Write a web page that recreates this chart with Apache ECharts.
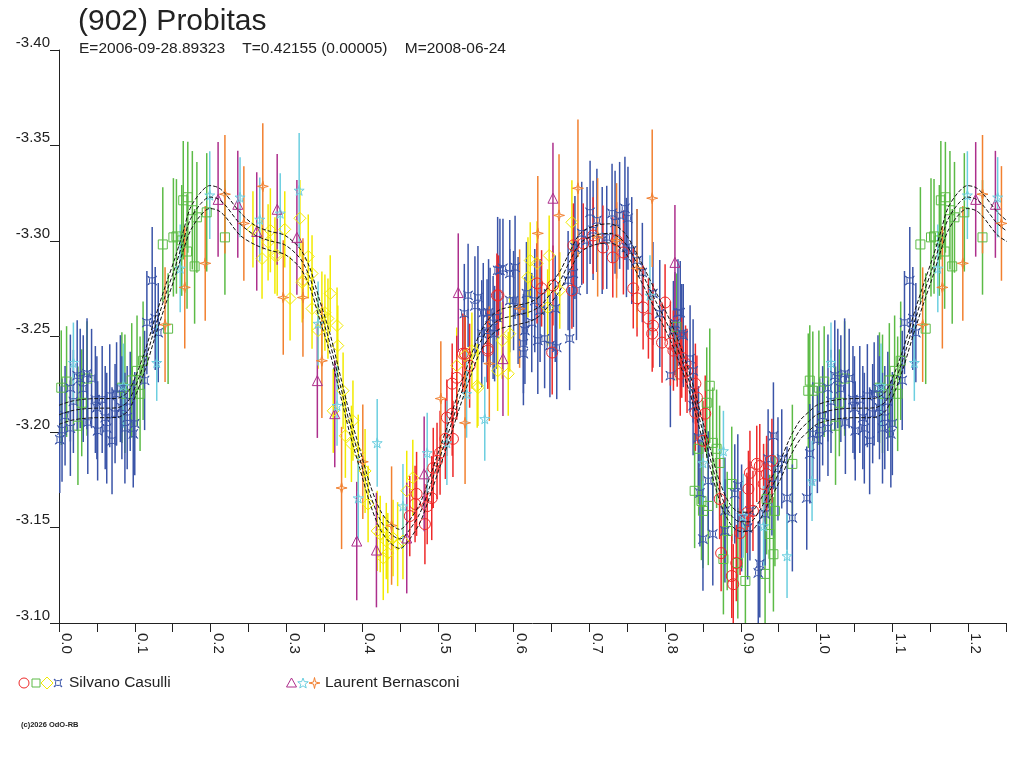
<!DOCTYPE html>
<html><head><meta charset="utf-8">
<script src="https://cdn.jsdelivr.net/npm/echarts@6/dist/echarts.min.js"></script>
<style>html,body{margin:0;padding:0;background:#fff}#c{width:1024px;height:768px}</style>
</head><body><div id="c"></div>
<script>
// ---- fitted light curve (phase, magnitude) ----
const fitPhase = [0.000,0.015,0.030,0.050,0.067,0.080,0.091,0.100,0.114,0.127,0.140,0.153,0.164,0.173,0.186,0.199,0.210,0.219,0.239,0.259,0.279,0.298,0.318,0.331,0.344,0.358,0.371,0.384,0.397,0.411,0.424,0.437,0.450,0.463,0.477,0.490,0.503,0.516,0.529,0.543,0.556,0.569,0.582,0.602,0.622,0.635,0.648,0.661,0.675,0.688,0.707,0.727,0.747,0.767,0.787,0.807,0.820,0.833,0.846,0.859,0.872,0.886,0.899,0.912,0.925,0.938,0.952,0.965,0.978,0.991,1.000];
const fitMag = [-3.209,-3.211,-3.212,-3.2125,-3.2125,-3.213,-3.216,-3.223,-3.238,-3.255,-3.271,-3.286,-3.300,-3.311,-3.319,-3.323,-3.322,-3.319,-3.309,-3.303,-3.300,-3.298,-3.291,-3.281,-3.264,-3.246,-3.225,-3.204,-3.186,-3.167,-3.154,-3.147,-3.144,-3.149,-3.158,-3.172,-3.187,-3.202,-3.218,-3.234,-3.247,-3.255,-3.259,-3.261,-3.263,-3.266,-3.272,-3.279,-3.290,-3.299,-3.303,-3.304,-3.299,-3.285,-3.269,-3.253,-3.240,-3.225,-3.206,-3.187,-3.169,-3.157,-3.153,-3.153,-3.159,-3.169,-3.180,-3.192,-3.201,-3.206,-3.209];
const fitUpper = [-3.214,-3.216,-3.217,-3.2175,-3.2175,-3.218,-3.221,-3.228,-3.243,-3.260,-3.276,-3.291,-3.305,-3.317,-3.325,-3.329,-3.328,-3.325,-3.315,-3.308,-3.305,-3.303,-3.296,-3.286,-3.269,-3.251,-3.230,-3.209,-3.191,-3.172,-3.159,-3.152,-3.149,-3.154,-3.163,-3.177,-3.192,-3.207,-3.223,-3.239,-3.252,-3.260,-3.264,-3.266,-3.268,-3.271,-3.277,-3.284,-3.295,-3.304,-3.308,-3.309,-3.304,-3.290,-3.274,-3.258,-3.245,-3.230,-3.211,-3.192,-3.174,-3.162,-3.158,-3.158,-3.164,-3.174,-3.185,-3.197,-3.206,-3.211,-3.214];
const fitLower = [-3.204,-3.206,-3.207,-3.2075,-3.2075,-3.208,-3.211,-3.218,-3.233,-3.250,-3.266,-3.281,-3.295,-3.305,-3.313,-3.317,-3.316,-3.313,-3.303,-3.298,-3.295,-3.293,-3.286,-3.276,-3.259,-3.241,-3.220,-3.199,-3.181,-3.162,-3.149,-3.142,-3.139,-3.144,-3.153,-3.167,-3.182,-3.197,-3.213,-3.229,-3.242,-3.250,-3.254,-3.256,-3.258,-3.261,-3.267,-3.274,-3.285,-3.294,-3.298,-3.299,-3.294,-3.280,-3.264,-3.248,-3.235,-3.220,-3.201,-3.182,-3.164,-3.152,-3.148,-3.148,-3.154,-3.164,-3.175,-3.187,-3.196,-3.201,-3.204];

// ---- observations [phase, mag, error] ----
// Silvano Casulli
const redData = [[0.463,-3.156,0.021],[0.470,-3.1623,0.020],[0.472,-3.1676,0.022],[0.483,-3.1518,0.021],[0.486,-3.1612,0.020],[0.492,-3.1654,0.022],[0.494,-3.1812,0.021],[0.499,-3.1849,0.020],[0.503,-3.1891,0.022],[0.510,-3.1964,0.021],[0.512,-3.2075,0.020],[0.519,-3.2096,0.022],[0.519,-3.2253,0.021],[0.520,-3.1964,0.020],[0.525,-3.2284,0.022],[0.533,-3.241,0.021],[0.536,-3.241,0.020],[0.542,-3.2347,0.022],[0.566,-3.2437,0.021],[0.566,-3.2426,0.020],[0.578,-3.2715,0.022],[0.580,-3.2715,0.021],
[0.631,-3.2778,0.021],[0.637,-3.2752,0.020],[0.651,-3.2416,0.022],[0.652,-3.2767,0.021],[0.677,-3.2741,0.020],[0.679,-3.2977,0.022],[0.692,-3.2987,0.021],[0.705,-3.3029,0.020],[0.718,-3.2966,0.022],[0.731,-3.2914,0.021],[0.736,-3.3003,0.020],[0.745,-3.294,0.022],[0.758,-3.2752,0.021],[0.763,-3.27,0.020],[0.771,-3.2652,0.022],[0.778,-3.2594,0.021],[0.783,-3.2515,0.020],[0.784,-3.2557,0.022],[0.796,-3.2468,0.021],[0.800,-3.2678,0.020],[0.807,-3.2463,0.022],[0.811,-3.2426,0.021],[0.816,-3.2437,0.020],[0.820,-3.2305,0.022],[0.822,-3.2389,0.021],[0.827,-3.2358,0.020],[0.829,-3.232,0.022],[0.840,-3.2253,0.021],[0.840,-3.2101,0.020],[0.842,-3.218,0.022],[0.850,-3.1954,0.021],[0.853,-3.2096,0.020],
[0.872,-3.1649,0.021],[0.874,-3.1366,0.020],[0.888,-3.1246,0.022],[0.890,-3.1203,0.021],[0.894,-3.1314,0.020],[0.899,-3.1471,0.022],[0.908,-3.1576,0.021],[0.910,-3.1702,0.020],[0.912,-3.1786,0.022],[0.916,-3.1587,0.021],[0.921,-3.1833,0.020],[0.925,-3.1822,0.022],[0.930,-3.1728,0.021],[0.934,-3.178,0.020],[0.941,-3.1849,0.022]];
const greenData = [[0.003,-3.2232,0.030],[0.010,-3.2264,0.029],[0.025,-3.2033,0.031],[0.030,-3.2153,0.028],[0.037,-3.228,0.030],[0.083,-3.2232,0.029],[0.087,-3.220,0.031],[0.096,-3.227,0.030],[0.103,-3.232,0.029],[0.107,-3.220,0.030],[0.111,-3.2373,0.031],[0.137,-3.2982,0.030],[0.144,-3.2541,0.029],[0.151,-3.3019,0.031],[0.155,-3.3024,0.030],[0.162,-3.3003,0.029],[0.164,-3.3213,0.031],[0.169,-3.2945,0.030],[0.170,-3.3229,0.029],[0.176,-3.3161,0.031],[0.179,-3.2867,0.030],[0.182,-3.3124,0.029],[0.195,-3.315,0.031],[0.219,-3.3019,0.030],
[0.815,-3.255,0.028],[0.839,-3.1692,0.030],[0.844,-3.1912,0.029],[0.848,-3.1639,0.031],[0.850,-3.1587,0.030],[0.855,-3.2153,0.029],[0.857,-3.1613,0.031],[0.859,-3.2242,0.030],[0.863,-3.1943,0.029],[0.868,-3.1912,0.031],[0.872,-3.1838,0.030],[0.877,-3.1335,0.029],[0.882,-3.1482,0.031],[0.888,-3.1728,0.030],[0.896,-3.1314,0.029],[0.906,-3.122,0.031],[0.932,-3.1257,0.030],[0.934,-3.1649,0.029],[0.938,-3.1466,0.031],[0.943,-3.136,0.030],[0.945,-3.1587,0.029],[0.968,-3.1833,0.031],[0.989,-3.2216,0.030],[0.991,-3.2269,0.029],[0.995,-3.2216,0.031]];
const yellowData = [[0.256,-3.3061,0.020],[0.268,-3.2908,0.021],[0.276,-3.2993,0.020],[0.279,-3.3056,0.022],[0.285,-3.2924,0.020],[0.288,-3.2924,0.021],[0.298,-3.3061,0.020],[0.305,-3.2699,0.022],[0.318,-3.3119,0.020],[0.321,-3.2783,0.021],[0.322,-3.2793,0.020],[0.329,-3.2919,0.022],[0.334,-3.283,0.020],[0.334,-3.2646,0.021],[0.342,-3.2531,0.020],[0.347,-3.262,0.022],[0.351,-3.2625,0.020],[0.355,-3.2594,0.021],[0.358,-3.2725,0.020],[0.362,-3.2111,0.022],[0.367,-3.2557,0.020],[0.368,-3.2452,0.021],[0.375,-3.2216,0.020],[0.378,-3.198,0.022],[0.386,-3.1938,0.020],[0.388,-3.2059,0.021],[0.395,-3.1891,0.020],[0.404,-3.1796,0.022],[0.408,-3.1623,0.020],[0.420,-3.1482,0.021],[0.424,-3.1466,0.020],[0.428,-3.134,0.022],[0.432,-3.1429,0.020],[0.434,-3.1366,0.021],[0.441,-3.1445,0.020],[0.447,-3.1413,0.022],[0.454,-3.1429,0.020],[0.459,-3.1692,0.021],[0.467,-3.176,0.020],
[0.525,-3.2347,0.020],[0.536,-3.24,0.021],[0.545,-3.2426,0.020],[0.552,-3.2242,0.022],[0.553,-3.2232,0.020],[0.579,-3.232,0.021],[0.585,-3.2479,0.020],[0.593,-3.2305,0.022],[0.595,-3.2515,0.020],[0.619,-3.281,0.021],[0.622,-3.2898,0.020],[0.631,-3.2883,0.022],[0.645,-3.2652,0.020],[0.647,-3.2924,0.021],[0.661,-3.2741,0.020],[0.677,-3.3098,0.022]];
const blueData = [[0.001,-3.196,0.028],[0.004,-3.201,0.027],[0.008,-3.2085,0.026],[0.015,-3.223,0.028],[0.015,-3.202,0.025],[0.019,-3.216,0.027],[0.024,-3.2295,0.029],[0.028,-3.228,0.026],[0.032,-3.2227,0.028],[0.037,-3.2305,0.029],[0.038,-3.205,0.027],[0.043,-3.228,0.026],[0.048,-3.217,0.028],[0.050,-3.2127,0.027],[0.051,-3.2006,0.026],[0.057,-3.217,0.028],[0.061,-3.2075,0.027],[0.063,-3.202,0.029],[0.067,-3.219,0.027],[0.070,-3.1954,0.028],[0.074,-3.2096,0.026],[0.076,-3.220,0.027],[0.081,-3.2227,0.028],[0.083,-3.2127,0.027],[0.087,-3.202,0.029],[0.090,-3.2075,0.027],[0.094,-3.216,0.026],[0.098,-3.199,0.028],[0.100,-3.2044,0.027],[0.113,-3.227,0.026],[0.116,-3.2573,0.027],[0.123,-3.2793,0.028],[0.127,-3.2594,0.027],[0.131,-3.252,0.026],
[0.535,-3.262,0.026],[0.540,-3.2715,0.027],[0.549,-3.266,0.026],[0.553,-3.2704,0.027],[0.558,-3.2515,0.028],[0.560,-3.2625,0.026],[0.565,-3.253,0.027],[0.567,-3.2625,0.028],[0.569,-3.260,0.026],[0.573,-3.2547,0.027],[0.575,-3.2515,0.025],[0.578,-3.260,0.027],[0.579,-3.2846,0.028],[0.582,-3.2846,0.027],[0.586,-3.2857,0.026],[0.595,-3.283,0.028],[0.595,-3.2688,0.027],[0.600,-3.2688,0.026],[0.602,-3.2862,0.027],[0.606,-3.2636,0.028],[0.613,-3.241,0.027],[0.613,-3.2463,0.026],[0.615,-3.2531,0.028],[0.617,-3.2725,0.027],[0.624,-3.2573,0.026],[0.628,-3.2688,0.027],[0.632,-3.2479,0.028],[0.635,-3.2636,0.027],[0.641,-3.2489,0.026],[0.648,-3.2452,0.027],[0.655,-3.2646,0.028],[0.657,-3.2442,0.027],[0.672,-3.2793,0.026],[0.674,-3.2489,0.027],[0.679,-3.283,0.028],[0.681,-3.2966,0.027],[0.683,-3.2741,0.026],[0.690,-3.304,0.027],[0.697,-3.3003,0.028],[0.701,-3.315,0.027],[0.705,-3.3056,0.026],[0.710,-3.3108,0.027],[0.717,-3.3003,0.028],[0.723,-3.3019,0.027],[0.730,-3.3145,0.026],[0.734,-3.3098,0.027],[0.740,-3.3134,0.028],[0.747,-3.3171,0.027],[0.749,-3.2966,0.026],[0.751,-3.3119,0.027],[0.756,-3.295,0.028],[0.763,-3.2898,0.027],[0.770,-3.2835,0.026],[0.784,-3.2725,0.027],[0.793,-3.262,0.028],[0.807,-3.2295,0.027],[0.811,-3.2531,0.026],[0.813,-3.2568,0.027],[0.817,-3.2625,0.028],[0.820,-3.2625,0.027],[0.822,-3.2515,0.026],[0.824,-3.2505,0.027],[0.833,-3.2384,0.028],[0.837,-3.232,0.027],[0.837,-3.2138,0.026],[0.844,-3.197,0.027],[0.846,-3.1681,0.028],[0.850,-3.1439,0.027],[0.857,-3.1744,0.026],[0.863,-3.1466,0.027],[0.879,-3.1587,0.028],[0.879,-3.1482,0.027],[0.892,-3.1676,0.026],[0.896,-3.1718,0.027],[0.901,-3.155,0.028],[0.909,-3.1498,0.027],[0.912,-3.1587,0.026],[0.923,-3.1262,0.027],[0.925,-3.1309,0.028],[0.932,-3.1571,0.027],[0.936,-3.1859,0.026],[0.941,-3.1728,0.027],[0.943,-3.198,0.028],[0.949,-3.1807,0.027],[0.954,-3.1859,0.026],[0.961,-3.1654,0.027],[0.968,-3.155,0.028],[0.987,-3.1654,0.027],[0.991,-3.1886,0.026],[0.995,-3.199,0.027]];
// Laurent Bernasconi
const purpleData = [[0.210,-3.3218,0.030],[0.236,-3.3192,0.028],[0.261,-3.305,0.031],[0.288,-3.3166,0.029],[0.314,-3.3019,0.030],[0.341,-3.2269,0.030],[0.364,-3.2096,0.028],[0.393,-3.1429,0.031],[0.419,-3.1382,0.030],[0.459,-3.1445,0.029],[0.482,-3.1781,0.030],[0.527,-3.273,0.031],[0.586,-3.2384,0.030],[0.652,-3.3224,0.029],[0.813,-3.2888,0.030]];
const cyanData = [[0.019,-3.2363,0.021],[0.085,-3.2243,0.022],[0.129,-3.2363,0.020],[0.160,-3.2857,0.023],[0.199,-3.324,0.023],[0.239,-3.3229,0.021],[0.265,-3.3113,0.022],[0.292,-3.3145,0.021],[0.317,-3.3265,0.030],[0.342,-3.2568,0.022],[0.367,-3.2138,0.021],[0.395,-3.1654,0.022],[0.420,-3.1943,0.023],[0.454,-3.1612,0.022],[0.486,-3.1891,0.021],[0.512,-3.1943,0.022],[0.538,-3.22,0.023],[0.562,-3.2069,0.022],[0.780,-3.2715,0.021],[0.850,-3.1838,0.022],[0.877,-3.1901,0.021],[0.903,-3.1561,0.022],[0.930,-3.1508,0.021],[0.961,-3.1351,0.022],[0.994,-3.1744,0.021]];
const orangeData = [[0.140,-3.2562,0.030],[0.166,-3.2757,0.032],[0.193,-3.2883,0.030],[0.219,-3.3245,0.031],[0.244,-3.3092,0.030],[0.269,-3.3286,0.033],[0.296,-3.2704,0.030],[0.322,-3.2704,0.031],[0.347,-3.2373,0.030],[0.373,-3.1707,0.032],[0.401,-3.1844,0.030],[0.439,-3.151,0.031],[0.504,-3.2175,0.030],[0.536,-3.2048,0.032],[0.568,-3.2358,0.030],[0.608,-3.2646,0.031],[0.632,-3.304,0.030],[0.660,-3.3134,0.032],[0.685,-3.3276,0.036],[0.711,-3.3019,0.031],[0.736,-3.3003,0.030],[0.763,-3.2857,0.031],[0.783,-3.3224,0.036]];

const xMax = 1.25;
const yTickMin = -3.40, yTickMax = -3.10, yStep = 0.05, xStep = 0.05;
const titleText = '(902) Probitas';
const subText = 'E=2006-09-28.89323    T=0.42155 (0.00005)    M=2008-06-24';
const observer1 = 'Silvano Casulli';
const observer2 = 'Laurent Bernasconi';
const copyright = '(c)2026 OdO-RB';

const C = {red:'#ee2a2a', green:'#5cbb46', yellow:'#f2ea00', blue:'#3a54a8', purple:'#ad2f8c', cyan:'#6ccfe0', orange:'#f28030'};
const FONT = '"Liberation Sans", Arial, sans-serif';

// repeat phases 0..0.25 after phase 1
function wrap(arr){
  const out = arr.slice();
  arr.forEach(d => { if (d[0] + 1 <= xMax) out.push([d[0] + 1, d[1], d[2]]); });
  return out;
}
function curve(mags){
  const pts = fitPhase.map((p,i)=>[p, mags[i]]);
  fitPhase.forEach((p,i)=>{ if (p > 0 && p + 1 <= xMax + 0.02) pts.push([p + 1, mags[i]]); });
  return pts;
}

const SYM = {
  blue: 'path://M0,0 L30,20 L70,20 L100,0 L80,30 L80,70 L100,100 L70,80 L30,80 L0,100 L20,70 L20,30 Z',
  star: 'path://M50,0 L61,35 L98,35 L68,57 L79,91 L50,70 L21,91 L32,57 L2,35 L39,35 Z',
  star4: 'path://M50,0 L60,40 L100,50 L60,60 L50,100 L40,60 L0,50 L40,40 Z'
};

const groups = [
  {data: greenData, color: C.green, symbol: 'rect', size: 9},
  {data: blueData, color: C.blue, symbol: SYM.blue, size: 9},
  {data: yellowData, color: C.yellow, symbol: 'diamond', size: 12},
  {data: redData, color: C.red, symbol: 'circle', size: 11},
  {data: purpleData, color: C.purple, symbol: 'triangle', size: 10},
  {data: cyanData, color: C.cyan, symbol: SYM.star, size: 10},
  {data: orangeData, color: C.orange, symbol: SYM.star4, size: 11}
];

const series = [];
groups.forEach(g => {
  series.push({
    type: 'custom', data: wrap(g.data), clip: true, silent: true, z: 2,
    encode: {x: 0, y: 1},
    renderItem: (params, api) => {
      const x = api.value(0), y = api.value(1), e = api.value(2);
      const p1 = api.coord([x, y - e]), p2 = api.coord([x, y + e]);
      return {type: 'line', shape: {x1: p1[0], y1: p1[1], x2: p2[0], y2: p2[1]},
              style: {stroke: g.color, lineWidth: 1.5}};
    }
  });
});
groups.forEach(g => {
  series.push({
    type: 'scatter', data: wrap(g.data), clip: true, silent: true, z: 3,
    symbol: g.symbol, symbolSize: g.size,
    itemStyle: {color: 'rgba(0,0,0,0)', borderColor: g.color, borderWidth: 1, opacity: 1}
  });
});
[fitUpper, fitMag, fitLower].forEach(m => {
  series.push({
    type: 'line', data: curve(m), showSymbol: false, smooth: 0.3, clip: true, silent: true, z: 5,
    lineStyle: {color: '#111', width: 1, type: [4, 2]}
  });
});

// legend drawn as graphic shapes
function starPts(cx, cy, R, r, n){
  const pts = [];
  for (let i = 0; i < 2*n; i++){
    const a = -Math.PI/2 + i*Math.PI/n, rr = i % 2 ? r : R;
    pts.push([cx + rr*Math.cos(a), cy + rr*Math.sin(a)]);
  }
  return pts;
}
const ly = 683;
const hollow = c => ({fill: 'none', stroke: c, lineWidth: 1});
const graphic = [
  {type:'text', left: 78, top: 7, style:{text: titleText, font: '30px ' + FONT, fill:'#222'}},
  {type:'text', left: 79, top: 41, style:{text: subText, font: '15.5px ' + FONT, fill:'#222'}},
  {type:'circle', shape:{cx:24, cy:ly, r:5}, style: hollow(C.red)},
  {type:'rect', shape:{x:32, y:ly-4, width:8, height:8}, style: hollow(C.green)},
  {type:'polygon', shape:{points:[[47,ly-6],[53,ly],[47,ly+6],[41,ly]]}, style: hollow(C.yellow)},
  {type:'polygon', shape:{points:[[54,ly-4],[56.4,ly-2.4],[59.6,ly-2.4],[62,ly-4],[60.4,ly-1.6],[60.4,ly+1.6],[62,ly+4],[59.6,ly+2.4],[56.4,ly+2.4],[54,ly+4],[55.6,ly+1.6],[55.6,ly-1.6]]}, style: hollow(C.blue)},
  {type:'text', left: 69, top: ly-8, style:{text: observer1, font: '15.5px ' + FONT, fill:'#222'}},
  {type:'polygon', shape:{points:[[291.5,ly-5],[296.5,ly+4],[286.5,ly+4]]}, style: hollow(C.purple)},
  {type:'polygon', shape:{points: starPts(303, ly+0.5, 5.5, 2.3, 5)}, style: hollow(C.cyan)},
  {type:'polygon', shape:{points: starPts(314.5, ly, 5.5, 1.4, 4)}, style: hollow(C.orange)},
  {type:'text', left: 325, top: ly-8, style:{text: observer2, font: '15.5px ' + FONT, fill:'#222'}},
  {type:'text', left: 21, top: 721, style:{text: copyright, font: 'bold 7.5px ' + FONT, fill:'#222'}}
];

const chart = echarts.init(document.getElementById('c'), null, {renderer: 'canvas'});
chart.setOption({
  animation: false,
  backgroundColor: '#fff',
  grid: {left: 59, right: 18, top: 50, bottom: 145, containLabel: false, outerBoundsMode: 'none'},
  xAxis: {
    type: 'value', min: 0, max: xMax, interval: xStep,
    axisLine: {show: true, onZero: false, lineStyle: {color: '#222', width: 1}},
    axisTick: {show: true, length: 9, inside: false, lineStyle: {color: '#222'}},
    splitLine: {show: false},
    axisLabel: {
      rotate: -90, margin: 10, align: 'left', verticalAlign: 'bottom',
      color: '#222', fontSize: 15, fontFamily: FONT, showMaxLabel: true, showMinLabel: true,
      formatter: v => { const k = Math.round(v / xStep); return k % 2 === 0 ? (k * xStep).toFixed(1) : ''; }
    }
  },
  yAxis: {
    type: 'value', inverse: true, min: yTickMin, max: yTickMax, interval: yStep,
    axisLine: {show: true, onZero: false, lineStyle: {color: '#222', width: 1}},
    axisTick: {show: true, length: 9, lineStyle: {color: '#222'}},
    splitLine: {show: false},
    axisLabel: {margin: 9, verticalAlign: 'bottom', color: '#222', fontSize: 15, fontFamily: FONT,
      formatter: v => v.toFixed(2)}
  },
  graphic: graphic,
  series: series
});
</script></body></html>
